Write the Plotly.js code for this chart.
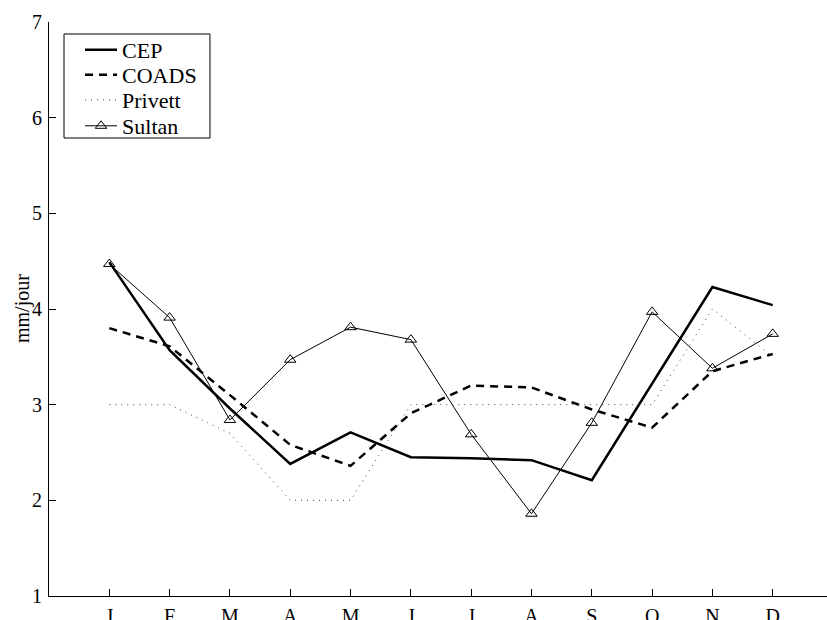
<!DOCTYPE html>
<html>
<head>
<meta charset="utf-8">
<script src="https://cdn.plot.ly/plotly-3.0.1.min.js"></script>
<style>html,body{margin:0;padding:0;background:#fff;}#chart{width:827px;height:620px;}</style>
</head>
<body>
<div id="chart"></div>
<script>
const months = [1,2,3,4,5,6,7,8,9,10,11,12];
const monthLabels = ['J','F','M','A','M','J','J','A','S','O','N','D'];
const cep     = [4.49, 3.57, 2.96, 2.38, 2.71, 2.45, 2.44, 2.42, 2.21, 3.22, 4.23, 4.04];
const coads   = [3.80, 3.61, 3.10, 2.58, 2.36, 2.91, 3.20, 3.18, 2.95, 2.76, 3.35, 3.53];
const privett = [3.00, 3.00, 2.70, 2.00, 2.00, 3.00, 3.00, 3.00, 3.00, 3.00, 4.00, 3.50];
const sultan  = [4.47, 3.91, 2.84, 3.47, 3.81, 3.68, 2.69, 1.86, 2.81, 3.97, 3.38, 3.74];

const FONT = 'Liberation Serif, Times New Roman, serif';
const legFont = {family: FONT, size: 22, color: '#000'};

const traces = [
  {x: months, y: cep, name: 'CEP', mode: 'lines', legend: 'legend', line: {color: '#000', width: 2.5}},
  {x: months, y: coads, name: 'COADS', mode: 'lines', legend: 'legend2', line: {color: '#000', width: 2.5, dash: '8px,6px'}},
  {x: months, y: privett, name: 'Privett', mode: 'lines', legend: 'legend3', line: {color: '#444', width: 1, dash: '1px,5px'}},
  {x: months, y: sultan, name: 'Sultan', mode: 'lines+markers', legend: 'legend4', line: {color: '#000', width: 1},
   marker: {symbol: 'triangle-up-open', size: 10, color: '#000', line: {width: 1, color: '#000'}}}
];

function leg(y) {
  return {x: 0.0399, y: y, xanchor: 'left', yanchor: 'middle', bgcolor: 'rgba(0,0,0,0)',
          borderwidth: 0, font: legFont, itemwidth: 32};
}

const layout = {
  width: 827, height: 620,
  margin: {l: 49, r: 0, t: 22, b: 24},
  paper_bgcolor: '#fff', plot_bgcolor: '#fff',
  font: {family: FONT, size: 20, color: '#000'},
  showlegend: true,
  legend: leg(0.9512), legend2: leg(0.9077), legend3: leg(0.8641), legend4: leg(0.8188),
  shapes: [{type: 'rect', xref: 'paper', yref: 'paper', x0: 0.0193, x1: 0.2069, y0: 0.7979, y1: 0.9791,
            line: {color: '#000', width: 1}, fillcolor: '#fff', layer: 'below'}],
  annotations: [{text: 'mm/jour', xref: 'paper', yref: 'paper', x: -0.0347, y: 0.5, textangle: -90,
                 xanchor: 'center', yanchor: 'middle', showarrow: false,
                 font: {family: FONT, size: 20, color: '#000'}}],
  xaxis: {range: [0, 12.9], tickmode: 'array', tickvals: months, ticktext: monthLabels,
          showline: true, linecolor: '#000', linewidth: 1, ticks: 'inside', ticklen: 7,
          tickcolor: '#000', showgrid: false, zeroline: false, ticklabelstandoff: 2,
          tickfont: {family: FONT, size: 20, color: '#000'}},
  yaxis: {range: [1, 7], dtick: 1, tick0: 1, showline: true, linecolor: '#000', linewidth: 1,
          ticks: 'inside', ticklen: 7, tickcolor: '#000', showgrid: false, zeroline: false,
          ticklabelstandoff: 2,
          tickfont: {family: FONT, size: 20, color: '#000'}}
};

Plotly.newPlot('chart', traces, layout, {displayModeBar: false, staticPlot: true});
</script>
</body>
</html>
